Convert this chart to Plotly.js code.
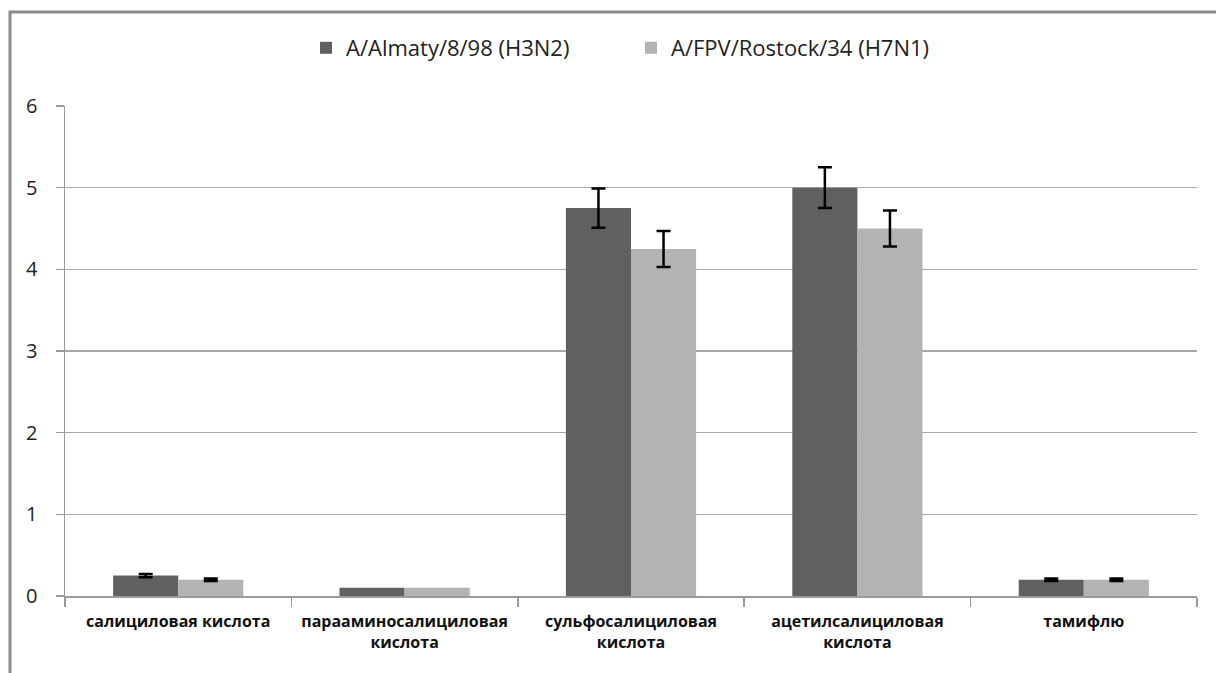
<!DOCTYPE html>
<html>
<head>
<meta charset="utf-8">
<script src="https://cdn.plot.ly/plotly-3.0.1.min.js"></script>
<style>
html,body{margin:0;padding:0;background:#fff;}
#chart{width:1216px;height:673px;}
</style>
</head>
<body>
<div id="chart"></div>
<script>
const categories = [
  "салициловая кислота",
  "парааминосалициловая<br>кислота",
  "сульфосалициловая<br>кислота",
  "ацетилсалициловая<br>кислота",
  "тамифлю"
];
const seriesNames = ["A/Almaty/8/98 (H3N2)", "A/FPV/Rostock/34 (H7N1)"];
const valuesH3N2 = [0.25, 0.10, 4.75, 5.00, 0.20];
const errorsH3N2 = [0.02, NaN, 0.24, 0.25, 0.015];
const valuesH7N1 = [0.20, 0.10, 4.25, 4.50, 0.20];
const errorsH7N1 = [0.015, NaN, 0.22, 0.22, 0.015];
const yTicks = [0, 1, 2, 3, 4, 5, 6];

const errStyle = (arr) => ({type: 'data', array: arr, visible: true, color: '#000', thickness: 2.5, width: 7});

const traces = [
  {type: 'bar', name: seriesNames[0], x: categories, y: valuesH3N2,
   marker: {color: '#606060'}, error_y: errStyle(errorsH3N2)},
  {type: 'bar', name: seriesNames[1], x: categories, y: valuesH7N1,
   marker: {color: '#b3b3b3'}, error_y: errStyle(errorsH7N1)}
];

const L = 65, R = 1197, T = 106, B = 596, W = 1216, H = 673;
const px = (x) => (x - L) / (R - L);
const py = (y) => (B - y) / (B - T);

const layout = {
  width: W, height: H,
  margin: {l: L, r: W - R, t: T, b: H - B},
  paper_bgcolor: '#ffffff',
  plot_bgcolor: '#ffffff',
  barmode: 'group',
  bargap: 0.425,
  bargroupgap: 0,
  showlegend: true,
  legend: {orientation: 'h', x: 0.5, xanchor: 'center', y: py(48), yanchor: 'middle',
           font: {family: 'Open Sans, sans-serif', size: 22, color: '#222'},
           itemwidth: 30, traceorder: 'normal', itemclick: false, entrywidth: 280},
  font: {family: 'Open Sans, sans-serif', color: '#222'},
  xaxis: {
    type: 'category',
    tickson: 'boundaries',
    tickangle: 0,
    ticks: 'outside', ticklen: 9, tickcolor: '#9a9a9a', tickwidth: 1.5,
    showline: true, linecolor: '#9a9a9a', linewidth: 1.5,
    showgrid: false,
    tickfont: {family: 'Open Sans, sans-serif', size: 16, color: '#111', weight: 'bold'},
    ticklabelstandoff: 10,
    fixedrange: true
  },
  yaxis: {
    range: [0, 6],
    tickvals: yTicks,
    ticks: 'outside', ticklen: 8, tickcolor: '#9a9a9a', tickwidth: 1.5,
    showline: true, linecolor: '#9a9a9a', linewidth: 1.5,
    showgrid: true, gridcolor: '#a8a8a8', gridwidth: 1.5,
    zeroline: false,
    tickfont: {family: 'Open Sans, sans-serif', size: 20, color: '#222'},
    ticklabelstandoff: 14,
    fixedrange: true
  },
  shapes: [
    {type: 'path', xref: 'paper', yref: 'paper',
     path: `M ${px(10)} ${py(680)} L ${px(10)} ${py(12)} L ${px(1220)} ${py(12)}`,
     line: {color: '#8c8c8c', width: 3}}
  ]
};

Plotly.newPlot('chart', traces, layout, {displayModeBar: false, staticPlot: true});
</script>
</body>
</html>
